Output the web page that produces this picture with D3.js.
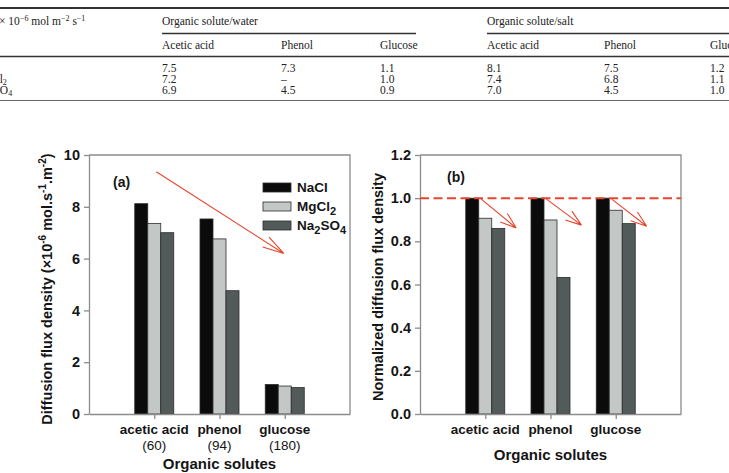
<!DOCTYPE html>
<html>
<head>
<meta charset="utf-8">
<title>Diffusion flux density</title>
<style>
  body { margin: 0; background: #fff; }
  svg { display: block; }
</style>
</head>
<body>
<script src="https://cdn.jsdelivr.net/npm/d3@7"></script>
<script>
var width = 729,
    height = 473;

// table strip at the top (cropped from the paper)
var tableSalts = ['NaCl', 'MgCl2', 'Na2SO4'];
var tableSolutes = ['Acetic acid', 'Phenol', 'Glucose'];
var tableWater = [['7.5', '7.3', '1.1'], ['7.2', '–', '1.0'], ['6.9', '4.5', '0.9']];
var tableSalt = [['8.1', '7.5', '1.2'], ['7.4', '6.8', '1.1'], ['7.0', '4.5', '1.0']];

// figure data
var solutes = ['acetic acid', 'phenol', 'glucose'];
var molWeights = ['(60)', '(94)', '(180)'];
var salts = ['NaCl', 'MgCl2', 'Na2SO4'];
var fluxNaCl = [8.12, 7.53, 1.14];
var fluxMgCl2 = [7.36, 6.76, 1.08];
var fluxNa2SO4 = [7.0, 4.76, 1.02];
var normNaCl = [1.0, 1.0, 1.0];
var normMgCl2 = [0.907, 0.899, 0.944];
var normNa2SO4 = [0.86, 0.633, 0.882];
var fluxTicks = [0, 2, 4, 6, 8, 10];
var normTicks = [0, 0.2, 0.4, 0.6, 0.8, 1.0, 1.2];
var arrowAFrom = 9.35, arrowATo = 6.2;      // big trend arrow in (a)
var arrowsBTo = [0.862, 0.875, 0.87];       // small arrows in (b), from 1.0

var barColors = ['#0b0b0b', '#c3c7c6', '#525b5a'];
var axisColor = '#8c8c8c',
    red = '#e8452f',
    sans = '"Liberation Sans", Arial, sans-serif',
    serif = '"Liberation Serif", "Times New Roman", serif';

var svg = d3.select('body').append('svg')
    .attr('width', width)
    .attr('height', height);

// digits become subscripts (NaCl, MgCl2, Na2SO4)
function chem(sel, name, subSize, drop) {
    var shift = 0;
    name.split(/(\d)/).filter(Boolean).forEach(function (p) {
        var isSub = /^\d$/.test(p), target = isSub ? drop : 0;
        var t = sel.append('tspan').attr('dy', target - shift).text(p);
        if (isSub) t.attr('font-size', subSize);
        shift = target;
    });
}

// ---------- table ----------
var tb = svg.append('g').attr('font-family', serif).attr('font-size', 11.5).attr('fill', '#222');
var rule = function (x0, x1, y, w, c) {
    tb.append('line').attr('x1', x0).attr('x2', x1).attr('y1', y).attr('y2', y)
        .attr('stroke', c || '#333').attr('stroke-width', w);
};
rule(0, width, 8, 2);
rule(162, 416, 33.5, 1.4);
rule(487, width, 33.5, 1.4);
rule(0, width, 56.5, 1.6);
rule(0, width, 100.5, 1, '#666');

var unit = tb.append('text').attr('x', -1).attr('y', 25);
unit.append('tspan').text('× 10');
unit.append('tspan').attr('dy', -4).attr('font-size', 8).text('−6');
unit.append('tspan').attr('dy', 4).text(' mol m');
unit.append('tspan').attr('dy', -4).attr('font-size', 8).text('−2');
unit.append('tspan').attr('dy', 4).text(' s');
unit.append('tspan').attr('dy', -4).attr('font-size', 8).text('−1');

tb.append('text').attr('x', 162).attr('y', 25).text('Organic solute/water');
tb.append('text').attr('x', 487).attr('y', 25).text('Organic solute/salt');

var colX = [162, 281, 380, 487, 604, 710];
tableSolutes.concat(tableSolutes).forEach(function (s, i) {
    tb.append('text').attr('x', colX[i]).attr('y', 48.5).text(s);
});
var rowY = [71.5, 82.5, 93.5];
tableSalts.forEach(function (s, r) {
    chem(tb.append('text').attr('x', -24).attr('y', rowY[r]), s, 8, 2);
    tableWater[r].concat(tableSalt[r]).forEach(function (v, c) {
        tb.append('text').attr('x', colX[c]).attr('y', rowY[r]).text(v);
    });
});

// ---------- bar panels ----------
function arrow(g, x0, y0, x1, y1, len, ang) {
    var a = Math.atan2(y1 - y0, x1 - x0);
    var d = 'M' + x0 + ',' + y0 + 'L' + x1 + ',' + y1;
    [-ang, ang].forEach(function (o) {
        d += 'M' + x1 + ',' + y1 + 'L' + (x1 - len * Math.cos(a + o)) + ',' + (y1 - len * Math.sin(a + o));
    });
    g.append('path').attr('d', d).attr('fill', 'none')
        .attr('stroke', red).attr('stroke-width', 1.1);
}

function panel(opt) {
    var w = 261, h = 259, bw = 13;
    var g = svg.append('g').attr('transform', 'translate(' + opt.left + ',155)');
    var x = d3.scalePoint().domain(solutes).range([0, w]).padding(1);
    var y = d3.scaleLinear().domain(opt.domain).range([h, 0]);

    opt.series.forEach(function (vals, s) {
        g.selectAll(null)
            .data(vals)
            .enter().append('rect')
            .attr('x', function (d, i) { return x(solutes[i]) - 1.5 * bw + s * bw; })
            .attr('y', function (d) { return y(d); })
            .attr('width', bw)
            .attr('height', function (d) { return h - y(d); })
            .attr('fill', barColors[s])
            .attr('stroke', '#2b2b2b')
            .attr('stroke-width', 0.8);
    });

    // frame top + right
    g.append('path').attr('d', 'M0,0H' + w + 'V' + h)
        .attr('fill', 'none').attr('stroke', axisColor).attr('stroke-width', 1.3);

    var ya = g.append('g')
        .call(d3.axisLeft(y).tickValues(opt.ticks).tickFormat(opt.fmt)
            .tickSize(5).tickSizeOuter(0).tickPadding(4));
    var xa = g.append('g').attr('transform', 'translate(0,' + h + ')')
        .call(d3.axisBottom(x).tickSize(5).tickSizeOuter(0).tickFormat(''));
    [ya, xa].forEach(function (a) {
        a.selectAll('path, line').attr('stroke', axisColor).attr('stroke-width', 1.3);
    });
    ya.attr('font-family', sans).attr('font-size', 14.5).attr('font-weight', 'bold');
    ya.selectAll('text').attr('fill', '#151515');

    // category labels
    var lab = g.append('g').attr('font-family', sans).attr('font-size', 13.5)
        .attr('fill', '#151515').attr('text-anchor', 'middle');
    solutes.forEach(function (s, i) {
        lab.append('text').attr('x', x(s)).attr('y', h + 20)
            .attr('font-weight', 'bold').text(s);
        if (opt.sub) lab.append('text').attr('x', x(s)).attr('y', h + 36).text(opt.sub[i]);
    });

    g.append('text')
        .attr('x', w / 2).attr('y', opt.xTitleY)
        .attr('text-anchor', 'middle')
        .attr('font-family', sans).attr('font-size', 15).attr('font-weight', 'bold')
        .attr('fill', '#151515')
        .text('Organic solutes');

    g.append('text')
        .attr('x', opt.tagX).attr('y', opt.tagY)
        .attr('font-family', sans).attr('font-size', 14).attr('font-weight', 'bold')
        .attr('fill', '#151515')
        .text(opt.tag);

    var yt = g.append('text')
        .attr('transform', 'translate(' + opt.yTitleX + ',' + opt.yTitleY + ') rotate(-90)')
        .attr('text-anchor', 'middle')
        .attr('font-family', sans).attr('font-size', 14.5).attr('font-weight', 'bold')
        .attr('fill', '#151515');
    var rise = 0;
    opt.yTitle.forEach(function (p) {
        var up = typeof p !== 'string', target = up ? -6 : 0;
        var t = yt.append('tspan').attr('dy', target - rise).text(up ? p.up : p);
        if (up) t.attr('font-size', 10);
        rise = target;
    });

    return {g: g, x: x, y: y, w: w, h: h, bw: bw};
}

// (a) absolute flux
var pa = panel({
    left: 89,
    domain: [0, 10],
    ticks: fluxTicks,
    fmt: d3.format('d'),
    series: [fluxNaCl, fluxMgCl2, fluxNa2SO4],
    sub: molWeights,
    xTitleY: 314,
    tag: '(a)', tagX: 24, tagY: 32,
    yTitle: ['Diffusion flux density (×10', {up: '-6'}, ' mol.s', {up: '-1'}, '.m', {up: '-2'}, ')'],
    yTitleX: -37, yTitleY: 134
});

var leg = pa.g.append('g').attr('font-family', sans).attr('font-size', 13.5)
    .attr('font-weight', 'bold').attr('fill', '#151515');
salts.forEach(function (s, i) {
    var yy = 28 + i * 19;
    leg.append('rect').attr('x', 174).attr('y', yy).attr('width', 28).attr('height', 9)
        .attr('fill', barColors[i]).attr('stroke', '#2b2b2b').attr('stroke-width', 0.8);
    chem(leg.append('text').attr('x', 208).attr('y', yy + 9), s, 11, 4);
});

arrow(pa.g, pa.x('acetic acid') + 2, pa.y(arrowAFrom), pa.x('glucose') - 1, pa.y(arrowATo), 22, 0.27);

// (b) normalised flux
var pb = panel({
    left: 420,
    domain: [0, 1.2],
    ticks: normTicks,
    fmt: d3.format('.1f'),
    series: [normNaCl, normMgCl2, normNa2SO4],
    sub: null,
    xTitleY: 305,
    tag: '(b)', tagX: 27, tagY: 27,
    yTitle: ['Normalized diffusion flux density'],
    yTitleX: -37, yTitleY: 132
});

pb.g.append('line')
    .attr('x1', 0).attr('x2', pb.w)
    .attr('y1', pb.y(1.0)).attr('y2', pb.y(1.0))
    .attr('stroke', red).attr('stroke-width', 2)
    .attr('stroke-dasharray', '9,4.5');

solutes.forEach(function (s, i) {
    arrow(pb.g, pb.x(s) - 4, pb.y(normNaCl[i]) + 1, pb.x(s) + 31, pb.y(arrowsBTo[i]), 17, 0.33);
});
</script>
</body>
</html>
